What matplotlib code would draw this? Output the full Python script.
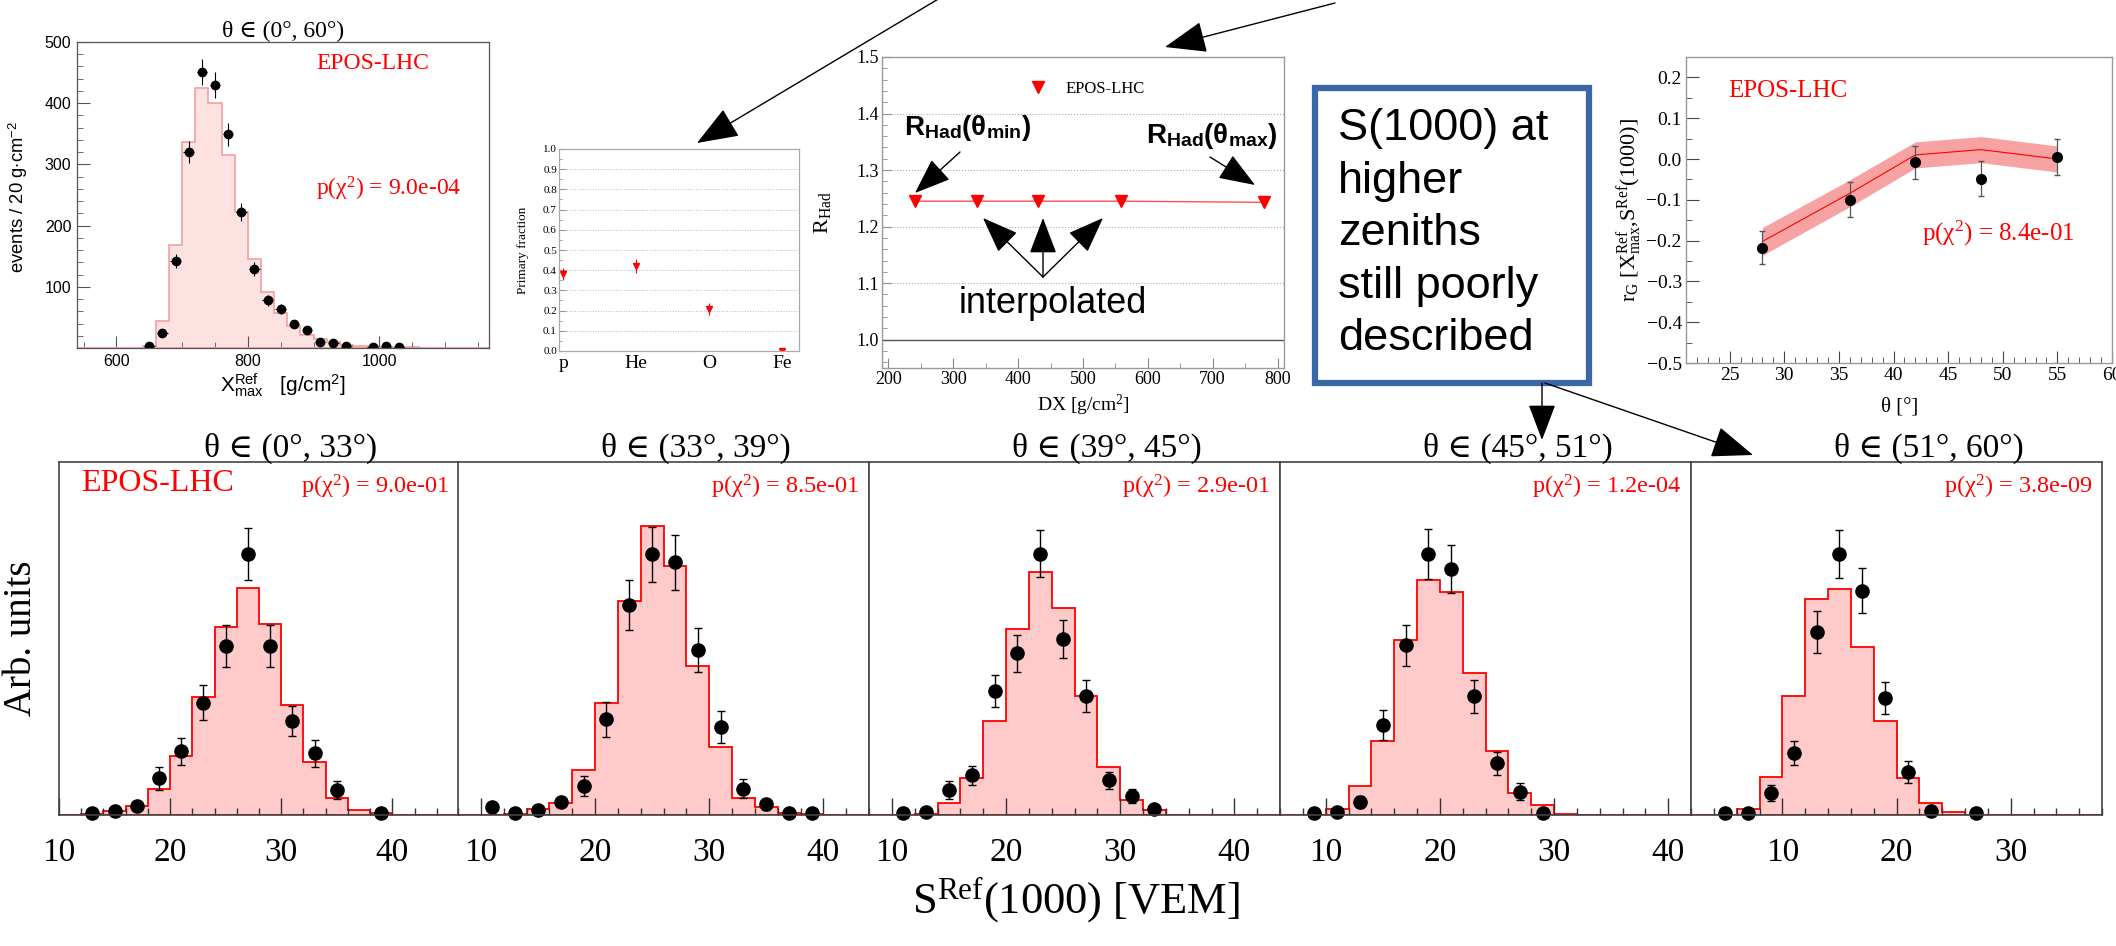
import matplotlib
matplotlib.use('Agg')
import matplotlib.pyplot as plt
from matplotlib.ticker import MultipleLocator, FuncFormatter, NullLocator
from matplotlib.patches import Rectangle
from matplotlib.lines import Line2D

W, H = 2116, 946
SERIF = ['Liberation Serif', 'DejaVu Serif']
SANS = ['Liberation Sans', 'DejaVu Sans']

plt.rcParams['font.family'] = SERIF
plt.rcParams['mathtext.fontset'] = 'custom'
plt.rcParams['mathtext.rm'] = 'Liberation Serif'
plt.rcParams['mathtext.it'] = 'Liberation Serif:italic'
plt.rcParams['mathtext.bf'] = 'Liberation Sans:bold'
plt.rcParams['mathtext.sf'] = 'Liberation Sans'
plt.rcParams['xtick.direction'] = 'in'
plt.rcParams['ytick.direction'] = 'in'

# --- top left: Xmax distribution, theta in (0, 60) ---
xmax_edges = [640, 660, 680, 700, 720, 740, 760, 780, 800, 820, 840,
              860, 880, 900, 920, 940, 960, 980, 1000, 1020, 1040, 1060]
xmax_hist = [3, 44, 169, 336, 425, 401, 316, 222, 145, 92, 57,
             36, 21, 14, 10, 5, 4, 3, 2, 1, 1]
xmax_x = [650, 670, 690, 710, 730, 750, 770, 790, 810, 830, 850,
          870, 890, 910, 930, 950, 990, 1010, 1030]
xmax_y = [4, 24, 142, 320, 451, 430, 349, 222, 129, 78, 64,
          39, 29, 10, 8, 3, 2, 4, 2]
xmax_err = [2, 5, 12, 18, 21, 21, 19, 15, 11, 9, 8, 6, 5, 3, 3, 2, 1.5, 2, 1.5]

# --- primary fractions ---
comp_labels = ['p', 'He', 'O', 'Fe']
comp_pos = [0, 1, 2, 3]
comp_frac = [0.38, 0.42, 0.21, 0.0]
comp_err = [0.03, 0.035, 0.03, 0.0]

# --- R_Had vs DX ---
rhad_dx = [241, 337, 430, 558, 779]
rhad = [1.245, 1.245, 1.245, 1.245, 1.243]
rhad_err = [0.0, 0.0, 0.0, 0.0, 0.01]

# --- correlation r_G vs zenith ---
rg_theta = [28, 36, 42, 48, 55]
rg_data = [-0.217, -0.100, -0.008, -0.048, 0.005]
rg_err = [0.041, 0.043, 0.040, 0.043, 0.043]
rg_model = [-0.202, -0.084, 0.010, 0.023, 0.0]
rg_band = [0.034, 0.033, 0.032, 0.032, 0.032]

# --- S(1000) distributions in zenith bins (arb. units) ---
s_titles = ['θ ∈ (0°, 33°)', 'θ ∈ (33°, 39°)', 'θ ∈ (39°, 45°)',
            'θ ∈ (45°, 51°)', 'θ ∈ (51°, 60°)']
s_pvals = ['9.0e-01', '8.5e-01', '2.9e-01', '1.2e-04', '3.8e-09']
s_xlims = [(10, 46), (8, 44), (8, 44), (6, 42), (2, 38)]

s1_edges = [12, 14, 16, 18, 20, 22, 24, 26, 28, 30, 32, 34, 36, 38, 40]
s1_hist = [0.2, 1.2, 2.5, 7.5, 16.6, 33.5, 53.3, 64.3, 54.0, 31.2, 15.0, 4.9, 1.4, 0.5]
s1_x = [13, 15, 17, 19, 21, 23, 25, 27, 29, 31, 33, 35, 39]
s1_y = [0.5, 1.2, 2.5, 10.4, 18.1, 31.8, 47.9, 73.9, 47.9, 26.6, 17.5, 7.1, 0.5]
s1_err = [0, 0, 0.8, 3.2, 3.8, 4.9, 5.9, 7.4, 5.9, 4.3, 3.8, 2.6, 0]

s2_edges = [12, 14, 16, 18, 20, 22, 24, 26, 28, 30, 32, 34, 36, 38, 40]
s2_hist = [0.2, 1.6, 3.5, 12.7, 31.8, 60.6, 81.8, 70.5, 42.2, 19.3, 4.9, 2.2, 0.5, 0.2]
s2_x = [11, 13, 15, 17, 19, 21, 23, 25, 27, 29, 31, 33, 35, 37, 39]
s2_y = [2.4, 0.5, 1.4, 3.8, 8.2, 27.1, 59.5, 73.9, 71.6, 46.8, 24.9, 7.5, 3.0, 0.7, 0.7]
s2_err = [0.8, 0, 0.5, 1.2, 2.9, 4.9, 7.2, 7.8, 7.8, 6.3, 4.6, 2.8, 1.5, 0, 0]

s3_edges = [12, 14, 16, 18, 20, 22, 24, 26, 28, 30, 32, 34]
s3_hist = [0.3, 3.3, 10.6, 26.7, 52.7, 68.8, 58.7, 33.8, 13.7, 4.2, 1.4]
s3_x = [11, 13, 15, 17, 19, 21, 23, 25, 27, 29, 31, 33]
s3_y = [0.5, 0.8, 7.1, 11.3, 35.1, 45.8, 74.0, 49.8, 33.7, 9.8, 5.4, 1.6]
s3_err = [0, 0, 2.5, 2.7, 4.6, 5.3, 6.6, 5.4, 4.6, 2.5, 2.0, 0]

s4_edges = [10, 12, 14, 16, 18, 20, 22, 24, 26, 28, 30, 32]
s4_hist = [1.6, 8.3, 21.0, 49.5, 66.5, 63.1, 40.3, 18.1, 6.3, 2.8, 0.4]
s4_x = [9, 11, 13, 15, 17, 19, 21, 23, 25, 27, 29]
s4_y = [0.5, 0.9, 3.6, 25.5, 48.1, 73.9, 69.6, 33.6, 14.6, 6.6, 0.5]
s4_err = [0, 0, 1.7, 4.3, 5.8, 7.0, 6.8, 4.7, 3.2, 2.4, 0]

s5_edges = [6, 8, 10, 12, 14, 16, 18, 20, 22, 24, 26]
s5_hist = [1.6, 10.8, 33.7, 61.2, 64.0, 47.6, 26.7, 10.6, 3.5, 0.8]
s5_x = [5, 7, 9, 11, 13, 15, 17, 19, 21, 23, 27]
s5_y = [0.5, 0.5, 6.3, 17.5, 51.9, 73.9, 63.5, 33.2, 12.3, 1.2, 0.5]
s5_err = [0, 0, 2.2, 3.4, 5.9, 6.8, 6.4, 4.6, 3.1, 0, 0]

s_edges = [s1_edges, s2_edges, s3_edges, s4_edges, s5_edges]
s_hist = [s1_hist, s2_hist, s3_hist, s4_hist, s5_hist]
s_x = [s1_x, s2_x, s3_x, s4_x, s5_x]
s_y = [s1_y, s2_y, s3_y, s4_y, s5_y]
s_err = [s1_err, s2_err, s3_err, s4_err, s5_err]


fig = plt.figure(figsize=(W / 100, H / 100), dpi=100)


def px_axes(l, t, r, b, **kw):
    # axes placed by pixel box (left, top, right, bottom)
    return fig.add_axes([l / W, 1 - b / H, (r - l) / W, (b - t) / H], **kw)


def minus_fmt(fmt):
    def f(v, pos):
        if abs(v) < 1e-9:
            v = 0.0
        return (fmt % v).replace('-', '\u2212')
    return FuncFormatter(f)


def frame(ax, color, lw=1.0):
    for sp in ax.spines.values():
        sp.set_color(color)
        sp.set_linewidth(lw)


# ---------- top left ----------
ax = px_axes(77, 42, 489, 348)
ax.stairs(xmax_hist, xmax_edges, fill=True, color='#fde2e2', lw=0)
ax.stairs(xmax_hist, xmax_edges, color='#f4a0a0', lw=1.2)
ax.axhline(0, color='#f4a0a0', lw=1.2)
ax.errorbar(xmax_x, xmax_y, yerr=xmax_err, xerr=8, fmt='o', color='black',
            ms=6, elinewidth=0.8, capsize=0)
ax.set_xlim(540, 1167)
ax.set_ylim(0, 500)
ax.set_yticks([100, 200, 300, 400, 500])
ax.yaxis.set_minor_locator(MultipleLocator(20))
ax.xaxis.set_major_locator(MultipleLocator(200))
ax.xaxis.set_minor_locator(MultipleLocator(50))
ax.tick_params(which='both', top=False, right=False, labelsize=11.5,
               labelfontfamily=SANS, color='#555555', pad=4)
ax.tick_params(which='major', length=9)
ax.tick_params(which='minor', length=4.5)
frame(ax, '#555555', 0.9)
ax.set_title('θ ∈ (0°, 60°)', fontsize=17, pad=2)
ax.text(-0.143, 0.493, r'events / 20 g$\cdot$cm$^{\mathsf{-2}}$', family=SANS,
        fontsize=13.3, rotation=90, ha='center', va='center', transform=ax.transAxes)
ax.text(0.5, -0.121, r'X$_{\mathsf{max}}^{\mathsf{Ref}}$   [g/cm$^{\mathsf{2}}$]',
        family=SANS, fontsize=15, ha='center', va='center', transform=ax.transAxes)
ax.text(0.58, 0.93, 'EPOS-LHC', color='red', fontsize=17, va='center',
        transform=ax.transAxes)
ax.text(0.58, 0.52, r'p(χ$^{2}$) = 9.0e-04', color='red', fontsize=17,
        va='center', transform=ax.transAxes)

# ---------- primary fractions ----------
ax = px_axes(559, 149, 799, 351)
ax.errorbar(comp_pos, comp_frac, yerr=comp_err, fmt='v', color='red', ms=4.5,
            elinewidth=0.8, capsize=0, clip_on=True)
ax.set_xlim(-0.06, 3.23)
ax.set_ylim(0, 1.0)
ax.yaxis.set_major_locator(MultipleLocator(0.1))
ax.yaxis.set_minor_locator(MultipleLocator(0.05))
ax.yaxis.set_major_formatter(FuncFormatter(lambda v, p: '%.1f' % v))
ax.set_xticks(comp_pos)
ax.set_xticklabels(comp_labels, fontsize=14)
ax.tick_params(axis='x', length=0, pad=3)
ax.tick_params(axis='y', which='both', labelsize=8, color='#999999', pad=1.5)
ax.tick_params(axis='y', which='major', length=5)
ax.tick_params(axis='y', which='minor', length=2.5)
ax.grid(axis='y', which='major', ls=':', color='#bbbbbb', lw=0.7)
frame(ax, '#aaaaaa', 0.9)
ax.text(-0.15, 0.5, 'Primary fraction', fontsize=9.5, rotation=90,
        ha='center', va='center', transform=ax.transAxes)

# ---------- R_Had ----------
ax = px_axes(882, 57, 1284, 368)
ax.plot(rhad_dx, rhad, color='#ff5050', lw=1.0)
ax.errorbar(rhad_dx, rhad, yerr=rhad_err, fmt='v', color='red', ms=8,
            elinewidth=0.8, capsize=0)
ax.set_xlim(190, 810)
ax.set_ylim(0.95, 1.5)
ax.set_yticks([1.0, 1.1, 1.2, 1.3, 1.4, 1.5])
ax.yaxis.set_major_formatter(FuncFormatter(lambda v, p: '%.1f' % v))
ax.yaxis.set_minor_locator(MultipleLocator(0.02))
ax.xaxis.set_major_locator(MultipleLocator(100))
ax.xaxis.set_minor_locator(MultipleLocator(50))
ax.tick_params(which='both', top=False, right=False, labelsize=13,
               color='#888888', pad=2)
ax.tick_params(which='major', length=7)
ax.tick_params(which='minor', length=3.5)
for gy in [1.1, 1.2, 1.3, 1.4]:
    ax.axhline(gy, ls=':', color='#aaaaaa', lw=0.8)
ax.axhline(1.0, color='#555555', lw=1.0)
frame(ax, '#999999', 1.0)
ax.legend(handles=[Line2D([], [], marker='v', ls='none', color='red', ms=8)],
          labels=['EPOS-LHC'], loc='upper center', bbox_to_anchor=(0.5, 0.97),
          frameon=False, fontsize=12, handletextpad=0.6)
ax.text(-0.147, 0.5, r'R$_{\mathrm{Had}}$', fontsize=16, rotation=90,
        ha='center', va='center', transform=ax.transAxes)
ax.text(0.5, -0.119, r'DX [g/cm$^{2}$]', fontsize=14, ha='center',
        va='center', transform=ax.transAxes)

# ---------- r_G ----------
ax = px_axes(1686, 57, 2112, 363)
lo = [m - b for m, b in zip(rg_model, rg_band)]
hi = [m + b for m, b in zip(rg_model, rg_band)]
ax.fill_between(rg_theta, lo, hi, color='#f7a3a3', lw=0)
ax.plot(rg_theta, rg_model, color='red', lw=0.8)
ax.errorbar(rg_theta, rg_data, yerr=rg_err, fmt='o', color='black', ms=7,
            ecolor='#555555', elinewidth=0.9, capsize=2)
ax.set_xlim(21, 60)
ax.set_ylim(-0.5, 0.25)
ax.set_yticks([-0.5, -0.4, -0.3, -0.2, -0.1, 0.0, 0.1, 0.2])
ax.yaxis.set_major_formatter(minus_fmt('%.1f'))
ax.yaxis.set_minor_locator(MultipleLocator(0.05))
ax.xaxis.set_major_locator(MultipleLocator(5))
ax.xaxis.set_minor_locator(MultipleLocator(1))
ax.tick_params(which='both', top=False, right=False, labelsize=14,
               color='#444444', pad=3)
ax.tick_params(which='major', length=9)
ax.tick_params(which='minor', length=4.5)
frame(ax, '#999999', 1.0)
ax.text(-0.131, 0.5, r'r$_{\mathrm{G}}$ [X$_{\mathrm{max}}^{\mathrm{Ref}}$,S$^{\mathrm{Ref}}$(1000)]',
        fontsize=16, rotation=90, ha='center', va='center', transform=ax.transAxes)
ax.text(0.502, -0.144, 'θ [°]', fontsize=15, ha='center', va='center',
        transform=ax.transAxes)
ax.text(0.10, 0.89, 'EPOS-LHC', color='red', fontsize=18, va='center',
        transform=ax.transAxes)
ax.text(0.554, 0.425, r'p(χ$^{2}$) = 8.4e-01', color='red', fontsize=18,
        va='center', transform=ax.transAxes)

# ---------- bottom row: S(1000) in zenith bins ----------
lefts = [59, 458, 869, 1280, 1691]
rights = [459, 869, 1280, 1691, 2102]
for i in range(5):
    ax = px_axes(lefts[i], 462, rights[i], 815)
    ax.stairs(s_hist[i], s_edges[i], fill=True, color='#ffcaca', lw=0)
    ax.stairs(s_hist[i], s_edges[i], color='red', lw=1.3)
    ax.axhline(0, color='red', lw=1.4)
    ax.errorbar(s_x[i], s_y[i], yerr=s_err[i], fmt='o', color='black', ms=9.5,
                elinewidth=1.0, capsize=3, capthick=1.0, clip_on=False)
    ax.set_xlim(*s_xlims[i])
    ax.set_ylim(0, 100)
    ax.yaxis.set_major_locator(NullLocator())
    ax.xaxis.set_major_locator(MultipleLocator(10))
    ax.xaxis.set_minor_locator(MultipleLocator(2))
    ax.tick_params(axis='x', which='both', labelsize=24, color='#333333',
                   width=1.0, pad=16)
    ax.tick_params(axis='x', which='major', length=12)
    ax.tick_params(axis='x', which='minor', length=5)
    frame(ax, '#444444', 1.2)
    w = rights[i] - lefts[i]
    ax.text(0.5 + 32 / w, 1.014, s_titles[i], fontsize=24, ha='center',
            va='baseline', transform=ax.transAxes)
    ax.text(1 - 10 / w, 0.93, r'p(χ$^{2}$) = ' + s_pvals[i], color='red',
            fontsize=17.5, ha='right', va='center', transform=ax.transAxes)
    if i == 0:
        ax.text(0.055, 0.94, 'EPOS-LHC', color='red', fontsize=23,
                va='center', transform=ax.transAxes)

# ---------- overlay: arrows, notes, text box ----------
ov = fig.add_axes([0, 0, 1, 1], zorder=10)
ov.set_xlim(0, W)
ov.set_ylim(H, 0)
ov.axis('off')

big = dict(arrowstyle='-|>,head_length=1.1,head_width=0.42', color='black',
           lw=1.0, mutation_scale=24, shrinkA=0, shrinkB=0)
small = dict(arrowstyle='-|>,head_length=0.95,head_width=0.36', color='black',
             lw=1.0, mutation_scale=24, shrinkA=0, shrinkB=0)
ov.annotate('', xy=(697, 143), xytext=(940, -2), arrowprops=big)
ov.annotate('', xy=(1165, 47), xytext=(1335, 3), arrowprops=big)
ov.annotate('', xy=(915, 193), xytext=(960, 152), arrowprops=small)
ov.annotate('', xy=(1255, 185), xytext=(1210, 157), arrowprops=small)
for tx in [983, 1043, 1103]:
    ov.annotate('', xy=(tx, 218), xytext=(1043, 277), arrowprops=small)
ov.annotate('', xy=(1542, 440), xytext=(1542, 383), arrowprops=small)
ov.annotate('', xy=(1753, 455), xytext=(1545, 383), arrowprops=big)

ov.text(968, 135, r'R$_{\mathbf{Had}}$(θ$_{\mathbf{min}}$)', family=SANS,
        fontweight='bold', fontsize=20, ha='center', va='baseline')
ov.text(1212, 143, r'R$_{\mathbf{Had}}$(θ$_{\mathbf{max}}$)', family=SANS,
        fontweight='bold', fontsize=20, ha='center', va='baseline')
ov.text(1053, 313, 'interpolated', family=SANS, fontsize=26, ha='center',
        va='baseline')

ov.add_patch(Rectangle((1315, 88), 274, 295, facecolor='white',
                       edgecolor='#3a67a6', lw=4.5))
ov.text(1338, 108, 'S(1000) at\nhigher\nzeniths\nstill poorly\ndescribed',
        family=SANS, fontsize=32.5, ha='left', va='top', linespacing=1.36)

ov.text(22, 638, 'Arb. units', fontsize=28, rotation=90, ha='center', va='center')
ov.text(1076, 900, r'S$^{\mathrm{Ref}}$(1000) [VEM]', fontsize=32,
        ha='center', va='center')

fig.savefig('out.png', dpi=100)
